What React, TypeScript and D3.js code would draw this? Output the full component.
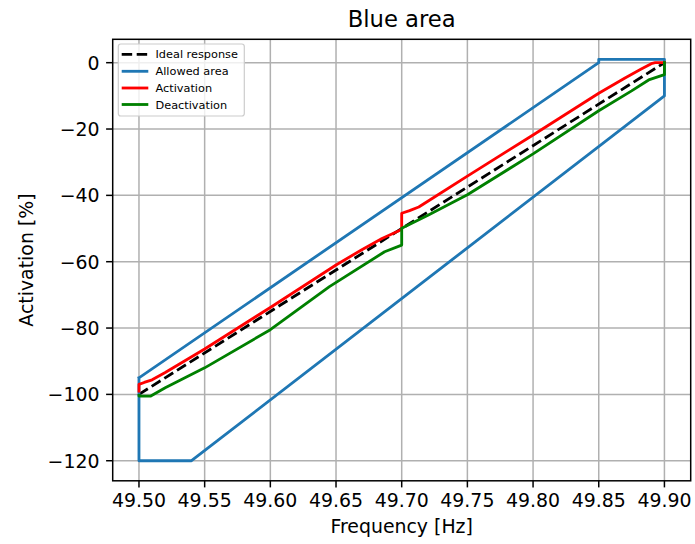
import React from "react";
import * as d3 from "d3";

const xTicks = [49.5, 49.55, 49.6, 49.65, 49.7, 49.75, 49.8, 49.85, 49.9];
const yTicks = [-120, -100, -80, -60, -40, -20, 0];

const idealF = [49.5, 49.9];
const idealV = [-100, 0];

const allowedF = [49.5, 49.85, 49.85, 49.9, 49.9, 49.54, 49.5, 49.5];
const allowedV = [-95, 0, 1, 1, -10, -120, -120, -95];

const actF = [49.5, 49.5, 49.504, 49.51, 49.52, 49.55, 49.6, 49.65, 49.67, 49.685, 49.7, 49.7, 49.706, 49.713, 49.725, 49.75, 49.8, 49.85, 49.87, 49.882, 49.89, 49.893, 49.9];
const actV = [-99, -97, -96.4, -95.6, -93.4, -86.3, -73.8, -61, -56.3, -53, -50.3, -45.4, -44.6, -43.5, -40.5, -34.2, -21.8, -9.2, -4.6, -2, -0.3, 0, 0];

const deaF = [49.5, 49.5, 49.509, 49.52, 49.55, 49.6, 49.645, 49.687, 49.7, 49.7, 49.72, 49.75, 49.8, 49.85, 49.875, 49.888, 49.9, 49.9];
const deaV = [-100.3, -100.5, -100.5, -98, -92, -80.5, -67.5, -57, -55, -49.9, -46, -39.8, -27.5, -14.5, -8.5, -5.2, -3.6, 0];

const legendLabels = ["Ideal response", "Allowed area", "Activation", "Deactivation"];
const legendColors = ["#000000", "#1f77b4", "#ff0000", "#008000"];

const W = 695, H = 544;
const L = 112.7, R = 690.7, T = 39.3, B = 480.8;
const LW = 2.83;
const FONT = "DejaVu Sans, sans-serif";

export default function App() {
  const x = d3.scaleLinear().domain([49.48, 49.92]).range([L, R]);
  const y = d3.scaleLinear().domain([-126.05, 7.05]).range([B, T]);
  const line = d3.line<[number, number]>().x(d => x(d[0])).y(d => y(d[1]));
  const zip = (a: number[], b: number[]) => a.map((v, i) => [v, b[i]] as [number, number]);

  const series = [
    { d: zip(idealF, idealV), c: legendColors[0], dash: `${3.7 * LW},${1.6 * LW}` },
    { d: zip(allowedF, allowedV), c: legendColors[1], dash: undefined },
    { d: zip(actF, actV), c: legendColors[2], dash: undefined },
    { d: zip(deaF, deaV), c: legendColors[3], dash: undefined },
  ];

  const fmtX = (v: number) => v.toFixed(2);
  const fmtY = (v: number) => (v < 0 ? "\u2212" + Math.abs(v) : String(v));

  const lgX = 118.3, lgY = 44, lgW = 126, lgH = 72;
  const rowY = [54.3, 71.3, 88, 104.5];

  return (
    <svg width={W} height={H} style={{ position: "absolute", left: 0, top: 0, background: "#fff" }} fontFamily={FONT}>
      <defs>
        <clipPath id="clip">
          <rect x={L} y={T} width={R - L} height={B - T} />
        </clipPath>
      </defs>
      {xTicks.map(t => (
        <line key={"gx" + t} x1={x(t)} x2={x(t)} y1={T} y2={B} stroke="#b0b0b0" strokeWidth={1.5} />
      ))}
      {yTicks.map(t => (
        <line key={"gy" + t} x1={L} x2={R} y1={y(t)} y2={y(t)} stroke="#b0b0b0" strokeWidth={1.5} />
      ))}
      <g clipPath="url(#clip)">
        {series.map((s, i) => (
          <path key={i} d={line(s.d) || ""} fill="none" stroke={s.c} strokeWidth={LW} strokeDasharray={s.dash} strokeLinejoin="round" strokeLinecap={s.dash ? "butt" : "square"} />
        ))}
      </g>
      <rect x={L} y={T} width={R - L} height={B - T} fill="none" stroke="#000" strokeWidth={1.5} />
      {xTicks.map(t => (
        <g key={"tx" + t}>
          <line x1={x(t)} x2={x(t)} y1={B} y2={B + 6.6} stroke="#000" strokeWidth={1.5} />
          <text x={x(t)} y={B + 26.5} textAnchor="middle" fontSize={18.9} fill="#000">{fmtX(t)}</text>
        </g>
      ))}
      {yTicks.map(t => (
        <g key={"ty" + t}>
          <line x1={L - 6.6} x2={L} y1={y(t)} y2={y(t)} stroke="#000" strokeWidth={1.5} />
          <text x={L - 13.2} y={y(t) + 6.9} textAnchor="end" fontSize={18.9} fill="#000">{fmtY(t)}</text>
        </g>
      ))}
      <text x={(L + R) / 2} y={533} textAnchor="middle" fontSize={18.9} fill="#000">Frequency [Hz]</text>
      <text transform={`translate(${33},${(T + B) / 2}) rotate(-90)`} textAnchor="middle" fontSize={18.9} fill="#000">Activation [%]</text>
      <text x={(L + R) / 2} y={26.5} textAnchor="middle" fontSize={22.7} fill="#000">Blue area</text>
      <g>
        <rect x={lgX} y={lgY} width={lgW} height={lgH} rx={2.5} fill="#fff" fillOpacity={0.8} stroke="#cccccc" strokeWidth={1.2} />
        {legendLabels.map((lab, i) => (
          <g key={lab}>
            <line x1={121.7} x2={148.3} y1={rowY[i]} y2={rowY[i]} stroke={legendColors[i]} strokeWidth={LW} strokeDasharray={i === 0 ? `${3.7 * LW},${1.6 * LW}` : undefined} />
            <text x={155.5} y={rowY[i] + 4} fontSize={11.3} fill="#000">{lab}</text>
          </g>
        ))}
      </g>
    </svg>
  );
}
